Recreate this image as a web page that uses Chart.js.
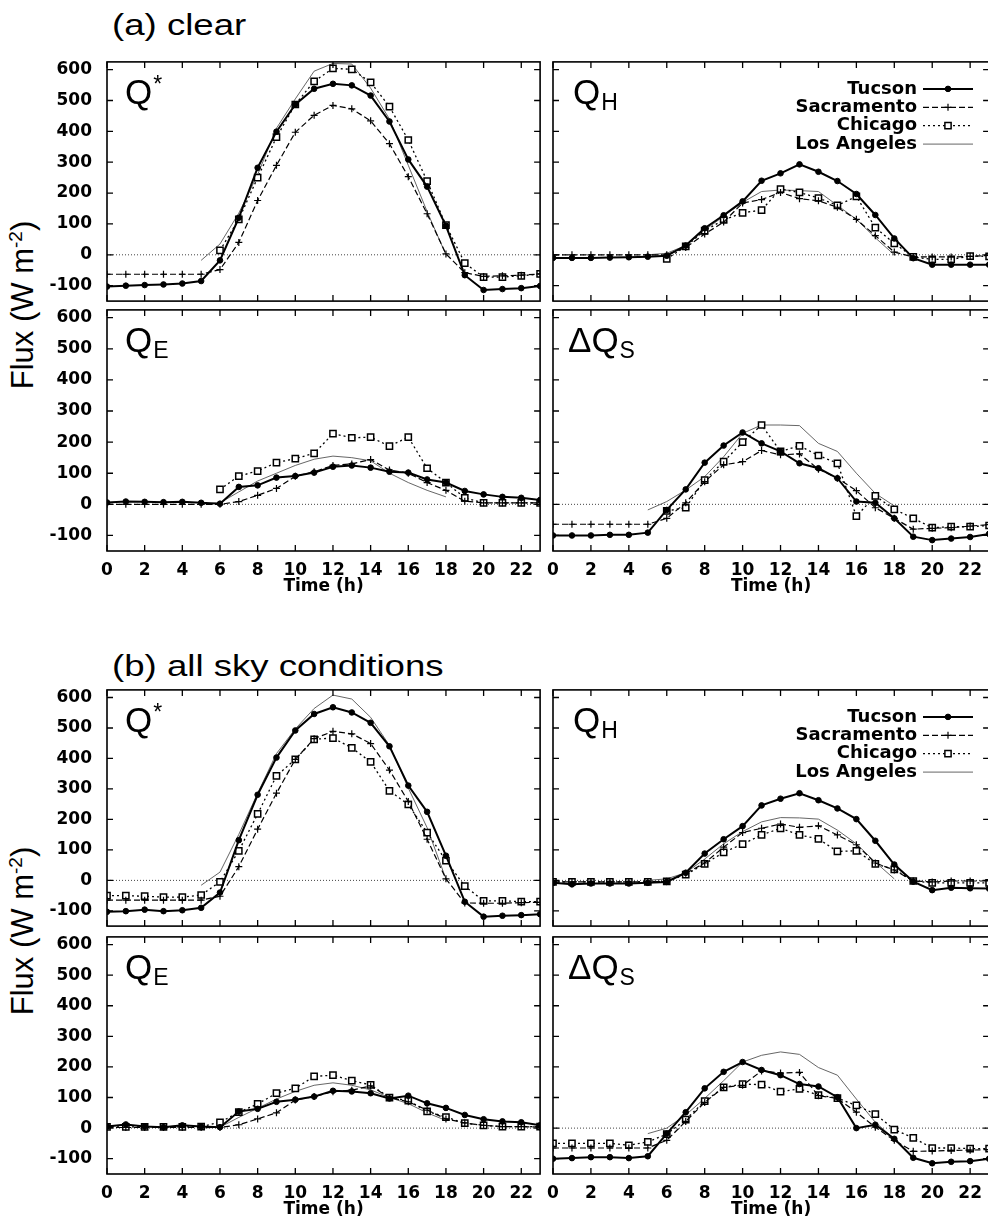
<!DOCTYPE html>
<html>
<head>
<meta charset="utf-8">
<script src="https://cdn.jsdelivr.net/npm/chart.js@4.4.0/dist/chart.umd.min.js"></script>
<style>
body{margin:0;width:988px;height:1225px;overflow:hidden;background:#fff;position:relative;font-family:'Liberation Sans',Arial,sans-serif;color:#000}
.panel{position:absolute}
.title{position:absolute;font-size:30px;line-height:1;transform:scaleX(1.22);transform-origin:left top;white-space:nowrap}
.ylab{position:absolute;font-size:31px;line-height:1;white-space:nowrap;transform:translate(-50%,-50%) rotate(-90deg)}
.ylab sup{font-size:19px;vertical-align:11px;line-height:0}
</style>
</head>
<body>
<div class="title" style="left:112px;top:10px">(a) clear</div>
<div class="title" style="left:112px;top:651px">(b) all sky conditions</div>
<div class="ylab" style="left:22px;top:305px">Flux (W m<sup>-2</sup>)</div>
<div class="ylab" style="left:22px;top:931px">Flux (W m<sup>-2</sup>)</div>

<div class="panel" id="p1"><canvas id="c1"></canvas></div>
<div class="panel" id="p2"><canvas id="c2"></canvas></div>
<div class="panel" id="p3"><canvas id="c3"></canvas></div>
<div class="panel" id="p4"><canvas id="c4"></canvas></div>
<div class="panel" id="p5"><canvas id="c5"></canvas></div>
<div class="panel" id="p6"><canvas id="c6"></canvas></div>
<div class="panel" id="p7"><canvas id="c7"></canvas></div>
<div class="panel" id="p8"><canvas id="c8"></canvas></div>

<script>
const N = null;
const hours = [0,1,2,3,4,5,6,7,8,9,10,11,12,13,14,15,16,17,18,19,20,21,22,23];
const xTickLabels = [0,2,4,6,8,10,12,14,16,18,20,22];
const yTickLabels = [-100,0,100,200,300,400,500,600];
const cities = ['Tucson','Sacramento','Chicago','Los Angeles'];

// (a) clear - net all-wave radiation Q*
const clearQstarTucson     = [-103,-100,-98,-96,-93,-85,-18,120,282,399,487,538,554,549,516,432,309,221,94,-66,-114,-111,-108,-101];
const clearQstarSacramento = [-63,-63,-63,-63,-63,-63,-48,40,176,290,397,452,484,473,434,360,253,133,3,-58,-70,-68,-66,-62];
const clearQstarChicago    = [N,N,N,N,N,N,14,115,250,381,487,562,604,601,559,480,372,239,96,-27,-72,-72,-68,-62];
const clearQstarLA         = [N,N,N,N,N,-18,35,135,260,410,505,595,620,618,540,440,290,140,0,N,N,N,N,N];
// (a) clear - sensible heat QH
const clearQhTucson        = [-10,-10,-10,-9,-8,-6,-3,30,86,128,173,240,264,293,269,239,197,129,53,-11,-32,-32,-32,-32];
const clearQhSacramento    = [0,0,0,0,0,0,0,24,67,106,168,179,202,182,175,154,115,62,9,-7,-7,-7,-5,-2];
const clearQhChicago       = [N,N,N,N,N,N,-13,27,78,113,136,145,213,202,184,160,189,88,37,-7,-15,-15,-4,-5];
const clearQhLA            = [N,N,N,N,N,0,5,30,80,125,170,205,210,208,205,160,115,55,0,N,N,N,N,N];
// (a) clear - latent heat QE
const clearQeTucson        = [6,9,8,7,8,5,2,56,61,86,91,102,121,125,118,105,102,80,70,43,32,24,21,14];
const clearQeSacramento    = [0,0,0,0,0,0,0,9,29,51,90,105,125,130,144,110,100,70,45,10,5,5,5,5];
const clearQeChicago       = [N,N,N,N,N,N,48,91,107,134,147,164,227,214,216,187,216,116,70,21,5,5,5,5];
const clearQeLA            = [N,N,N,N,N,0,5,40,75,100,125,145,155,150,140,100,70,45,24,N,N,N,N,N];
// (a) clear - storage heat flux dQS
const clearQsTucson        = [-100,-100,-100,-98,-98,-91,-18,48,134,189,231,196,170,132,116,84,9,5,-45,-104,-115,-110,-105,-95];
const clearQsSacramento    = [-64,-64,-64,-64,-64,-64,-45,5,73,127,137,173,159,162,113,84,44,-11,-45,-80,-77,-75,-70,-65];
const clearQsChicago       = [N,N,N,N,N,N,-21,-11,78,137,200,255,170,188,157,132,-38,27,-16,-45,-75,-72,-72,-68];
const clearQsLA            = [N,N,N,N,N,-18,9,46,89,153,228,255,255,253,196,170,100,35,-5,N,N,N,N,N];

// (b) all sky conditions
const allQstarTucson       = [-103,-101,-96,-101,-98,-90,-40,132,281,403,492,546,568,551,517,440,311,225,81,-70,-119,-116,-114,-111];
const allQstarSacramento   = [-65,-65,-65,-65,-65,-65,-52,45,168,286,397,465,489,481,449,362,259,135,5,-74,-75,-75,-73,-72];
const allQstarChicago      = [-50,-50,-52,-55,-55,-48,-5,97,218,343,397,463,467,435,389,294,249,157,65,-19,-67,-67,-70,-70];
const allQstarLA           = [N,N,N,N,N,-16,27,151,286,416,497,564,608,595,535,443,303,173,5,N,N,N,N,N];

const allQhTucson          = [-8,-13,-10,-10,-10,-8,-5,25,88,135,178,246,268,286,263,236,201,130,52,-4,-32,-24,-26,-27];
const allQhSacramento      = [-5,-5,-5,-5,-5,-5,-3,23,57,109,157,171,185,174,179,149,117,57,34,-2,-5,-2,-2,-2];
const allQhChicago         = [-5,-5,-5,-5,-5,-5,-3,19,54,92,119,149,171,149,136,95,97,54,36,-2,-8,-8,-8,-8];
const allQhLA              = [N,N,N,N,N,0,5,25,70,120,160,192,206,205,201,165,120,60,5,N,N,N,N,N];

const allQeTucson          = [5,12,5,3,9,5,3,54,63,86,93,103,122,120,114,97,106,81,66,43,29,22,19,9];
const allQeSacramento      = [2,2,2,2,2,2,2,11,30,50,92,103,119,124,138,100,86,59,30,17,9,5,5,3];
const allQeChicago         = [4,4,4,4,4,5,19,52,79,114,130,169,173,155,141,100,90,55,36,16,9,5,5,5];
const allQeLA              = [N,N,N,N,N,0,3,35,65,95,120,140,148,140,125,100,80,50,25,N,N,N,N,N];

const allQsTucson          = [-100,-98,-95,-95,-98,-92,-18,52,130,184,216,190,173,144,136,101,0,11,-35,-97,-115,-110,-108,-100];
const allQsSacramento      = [-65,-65,-65,-65,-65,-65,-40,22,84,133,140,187,180,182,106,97,52,3,-40,-76,-75,-73,-72,-70];
const allQsChicago         = [-50,-50,-50,-50,-56,-45,-20,28,88,133,144,142,119,128,108,98,74,46,-5,-32,-65,-65,-67,-67];
const allQsLA              = [N,N,N,N,N,-18,0,43,97,155,216,238,249,241,198,173,95,19,-35,N,N,N,N,N];

// line styles for the four cities
const styles = [
    {borderWidth: 2, borderDash: [], pointStyle: 'circle', pointRadius: 2.8, pointBackgroundColor: '#000', pointBorderWidth: 1},
    {borderWidth: 1.2, borderDash: [6, 3], pointStyle: 'cross', pointRadius: 3.5, pointBackgroundColor: '#000', pointBorderWidth: 1.2},
    {borderWidth: 1.3, borderDash: [2, 3], pointStyle: 'rect', pointRadius: 4.4, pointBackgroundColor: '#fff', pointBorderWidth: 1.5},
    {borderWidth: 0.9, borderDash: [], pointStyle: 'circle', pointRadius: 0, pointBackgroundColor: '#555', pointBorderWidth: 0, color: '#555'}
];

const tickFont = {family: 'DejaVu Sans', size: 17, weight: 'bold'};

function makeDatasets(series)
{
    return series.map((data, i) => ({
        label: cities[i],
        data: hours.map((h, k) => ({x: h, y: data[k]})),
        borderColor: styles[i].color || '#000',
        pointBorderColor: styles[i].color || '#000',
        borderWidth: styles[i].borderWidth,
        borderDash: styles[i].borderDash,
        pointStyle: styles[i].pointStyle,
        pointRadius: styles[i].pointRadius,
        pointBackgroundColor: styles[i].pointBackgroundColor,
        pointBorderWidth: styles[i].pointBorderWidth,
        tension: 0,
        spanGaps: false,
        fill: false
    }));
}

// frame, inward ticks and the dotted zero line
const framePlugin = {
    id: 'frame',
    beforeDatasetsDraw(chart)
    {
        const ctx = chart.ctx, a = chart.chartArea;
        const y0 = chart.scales.y.getPixelForValue(0);
        ctx.save();
        ctx.strokeStyle = '#444';
        ctx.lineWidth = 1;
        ctx.setLineDash([1, 2]);
        ctx.beginPath();
        ctx.moveTo(a.left, y0);
        ctx.lineTo(a.right, y0);
        ctx.stroke();
        ctx.restore();
    },
    afterDatasetsDraw(chart)
    {
        const ctx = chart.ctx, a = chart.chartArea;
        const len = 6;
        ctx.save();
        ctx.strokeStyle = '#000';
        ctx.lineWidth = 1.6;
        ctx.setLineDash([]);
        ctx.strokeRect(a.left, a.top, a.right - a.left, a.bottom - a.top);
        ctx.lineWidth = 1.3;
        ctx.beginPath();
        yTickLabels.forEach(v => {
            const y = chart.scales.y.getPixelForValue(v);
            ctx.moveTo(a.left, y); ctx.lineTo(a.left + len, y);
            ctx.moveTo(a.right, y); ctx.lineTo(a.right - len, y);
        });
        xTickLabels.forEach(v => {
            const x = chart.scales.x.getPixelForValue(v);
            ctx.moveTo(x, a.top); ctx.lineTo(x, a.top + len);
            ctx.moveTo(x, a.bottom); ctx.lineTo(x, a.bottom - len);
        });
        ctx.stroke();
        ctx.restore();
    },
    afterDraw(chart)
    {
        const o = chart.options.plugins.frame || {};
        const ctx = chart.ctx, a = chart.chartArea;
        ctx.save();
        ctx.fillStyle = '#000';
        if (o.label)
        {
            const bx = a.left + o.label.dx, by = a.top + 42;
            ctx.font = '35px "Liberation Sans"';
            ctx.textAlign = 'left';
            ctx.textBaseline = 'alphabetic';
            ctx.fillText(o.label.main, bx, by);
            const w = ctx.measureText(o.label.main).width;
            ctx.font = '23px "Liberation Sans"';
            if (o.label.sub) ctx.fillText(o.label.sub, bx + w + 1, by + 6);
            if (o.label.sup) ctx.fillText(o.label.sup, bx + w + 1, by - 12);
        }
        if (o.legend)
        {
            ctx.font = 'bold 18px "DejaVu Sans"';
            ctx.textBaseline = 'middle';
            chart.data.datasets.forEach((ds, i) => {
                const y = a.top + 27 + i * 18.4;
                const tx = a.left + 364;
                ctx.textAlign = 'right';
                ctx.fillStyle = '#000';
                ctx.fillText(ds.label, tx, y);
                ctx.strokeStyle = ds.borderColor;
                ctx.lineWidth = ds.borderWidth;
                ctx.setLineDash(ds.borderDash);
                ctx.beginPath();
                ctx.moveTo(tx + 6, y);
                ctx.lineTo(tx + 56, y);
                ctx.stroke();
                ctx.setLineDash([]);
                if (ds.pointRadius > 0)
                {
                    ctx.fillStyle = ds.pointBackgroundColor;
                    ctx.lineWidth = ds.pointBorderWidth;
                    Chart.helpers.drawPoint(ctx, {pointStyle: ds.pointStyle, rotation: 0, radius: ds.pointRadius, borderWidth: ds.pointBorderWidth}, tx + 31, y);
                }
            });
        }
        ctx.restore();
    }
};

function panel(n, box, series, o)
{
    const left = o.leftLabels ? 0 : box.L - 10;
    const axisH = o.bottom ? 46 : 0;
    const div = document.getElementById('p' + n);
    div.style.left = left + 'px';
    div.style.top = (box.T - 4) + 'px';
    div.style.width = (box.R + 4 - left) + 'px';
    div.style.height = (box.B - box.T + 8 + axisH) + 'px';

    new Chart(document.getElementById('c' + n), {
        type: 'line',
        data: {datasets: makeDatasets(series)},
        options: {
            responsive: true,
            maintainAspectRatio: false,
            animation: false,
            layout: {padding: {top: 4, right: 4, bottom: 4, left: 0}},
            plugins: {
                legend: {display: false},
                tooltip: {enabled: false},
                frame: {label: o.label, legend: o.legend}
            },
            scales: {
                x: {
                    type: 'linear',
                    min: 0,
                    max: 23,
                    afterBuildTicks: s => { s.ticks = xTickLabels.map(v => ({value: v})); },
                    afterFit: s => { s.height = axisH; s.paddingLeft = 0; s.paddingRight = 0; },
                    grid: {display: false, drawTicks: false},
                    border: {display: false},
                    ticks: {display: !!o.bottom, font: tickFont, color: '#000', padding: 9, maxRotation: 0, autoSkip: false},
                    title: {display: !!o.bottom, text: 'Time (h)', font: tickFont, color: '#000', padding: 0}
                },
                y: {
                    type: 'linear',
                    min: -150,
                    max: 625,
                    afterBuildTicks: s => { s.ticks = yTickLabels.map(v => ({value: v})); },
                    afterFit: s => { s.width = box.L - left; s.paddingTop = 0; s.paddingBottom = 0; },
                    grid: {display: false, drawTicks: false},
                    border: {display: false},
                    ticks: {display: !!o.leftLabels, font: tickFont, color: '#000', padding: 15}
                }
            }
        },
        plugins: [framePlugin]
    });
}

const LEFT = {L: 107, R: 542}, RIGHT = {L: 553, R: 991};
const rowA1 = {T: 60, B: 303}, rowA2 = {T: 308, B: 551}, rowB1 = {T: 688, B: 928}, rowB2 = {T: 935, B: 1174};

panel(1, {...LEFT, ...rowA1}, [clearQstarTucson, clearQstarSacramento, clearQstarChicago, clearQstarLA],
      {leftLabels: true, label: {main: 'Q', sup: '*', dx: 18}});
panel(2, {...RIGHT, ...rowA1}, [clearQhTucson, clearQhSacramento, clearQhChicago, clearQhLA],
      {label: {main: 'Q', sub: 'H', dx: 20}, legend: true});
panel(3, {...LEFT, ...rowA2}, [clearQeTucson, clearQeSacramento, clearQeChicago, clearQeLA],
      {leftLabels: true, bottom: true, label: {main: 'Q', sub: 'E', dx: 18}});
panel(4, {...RIGHT, ...rowA2}, [clearQsTucson, clearQsSacramento, clearQsChicago, clearQsLA],
      {bottom: true, label: {main: '\u0394Q', sub: 'S', dx: 15}});
panel(5, {...LEFT, ...rowB1}, [allQstarTucson, allQstarSacramento, allQstarChicago, allQstarLA],
      {leftLabels: true, label: {main: 'Q', sup: '*', dx: 18}});
panel(6, {...RIGHT, ...rowB1}, [allQhTucson, allQhSacramento, allQhChicago, allQhLA],
      {label: {main: 'Q', sub: 'H', dx: 20}, legend: true});
panel(7, {...LEFT, ...rowB2}, [allQeTucson, allQeSacramento, allQeChicago, allQeLA],
      {leftLabels: true, bottom: true, label: {main: 'Q', sub: 'E', dx: 18}});
panel(8, {...RIGHT, ...rowB2}, [allQsTucson, allQsSacramento, allQsChicago, allQsLA],
      {bottom: true, label: {main: '\u0394Q', sub: 'S', dx: 15}});
</script>
</body>
</html>
